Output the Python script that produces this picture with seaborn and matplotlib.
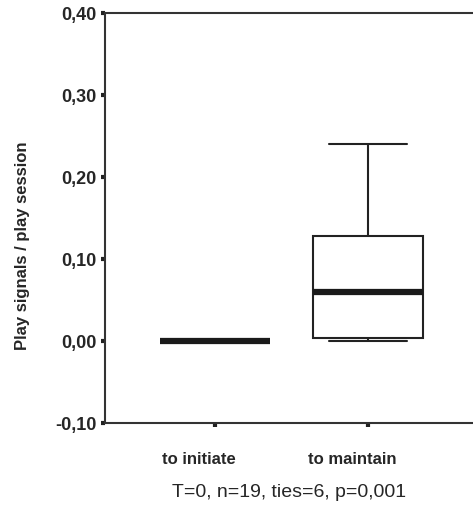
import numpy as np
import pandas as pd
import matplotlib
matplotlib.use("Agg")
from matplotlib import pyplot as plt
from matplotlib.ticker import FuncFormatter
import matplotlib.transforms as mtransforms
import seaborn as sns

# data: play signals per play session, n=19 per group
initiate = [0.0] * 19
maintain = [0.0, 0.0, 0.0, 0.0, 0.0, 0.008, 0.02, 0.035, 0.048, 0.06,
            0.07, 0.085, 0.10, 0.12, 0.136, 0.15, 0.17, 0.20, 0.24]
groups = ["to initiate", "to maintain"]
yticks = [-0.10, 0.00, 0.10, 0.20, 0.30, 0.40]

df = pd.DataFrame({
    "group": [groups[0]] * len(initiate) + [groups[1]] * len(maintain),
    "value": initiate + maintain,
})

sns.set_style("white")
plt.rcParams['font.family'] = ['Liberation Sans', 'DejaVu Sans']

fig = plt.figure(figsize=(4.73, 5.10), dpi=100)
ax = fig.add_axes([105 / 473, 86 / 510, 368 / 473, 410 / 510])

sns.boxplot(data=df, x="group", y="value", order=groups, ax=ax,
            width=0.72, color="white", linecolor="#222222", linewidth=1.5,
            whis=1.5, showfliers=False,
            medianprops={"linewidth": 4.5, "color": "#1a1a1a",
                         "solid_capstyle": "butt"},
            capwidths=0.51)

ax.set_xlim(-0.72, 1.686)
ax.set_ylim(-0.10, 0.40)
ax.set_yticks(yticks)
ax.yaxis.set_major_formatter(FuncFormatter(lambda v, p: f"{v:.2f}".replace(".", ",")))

for side in ["left", "bottom", "top"]:
    ax.spines[side].set_visible(True)
    ax.spines[side].set_color("#333333")
    ax.spines[side].set_linewidth(1.5)
ax.spines["right"].set_visible(False)

ax.tick_params(axis="y", left=True, direction="out", length=3, width=3,
               color="#222222", labelsize=13, pad=3)
ax.tick_params(axis="x", bottom=True, direction="out", length=3, width=3,
               color="#222222", labelsize=12, pad=17)
for lab in ax.get_yticklabels():
    lab.set_fontweight("bold")
shift = mtransforms.ScaledTranslation(-16 / 100, 0, fig.dpi_scale_trans)
for lab in ax.get_xticklabels():
    lab.set_fontweight("bold")
    lab.set_transform(lab.get_transform() + shift)

ax.set_ylabel("Play signals / play session", fontsize=12, fontweight="bold")
ax.yaxis.set_label_coords(-0.205, 0.434)
ax.set_xlabel("T=0, n=19, ties=6, p=0,001", fontsize=14)
ax.xaxis.set_label_coords(0.5, -0.146)

fig.savefig("out.png", dpi=100)
